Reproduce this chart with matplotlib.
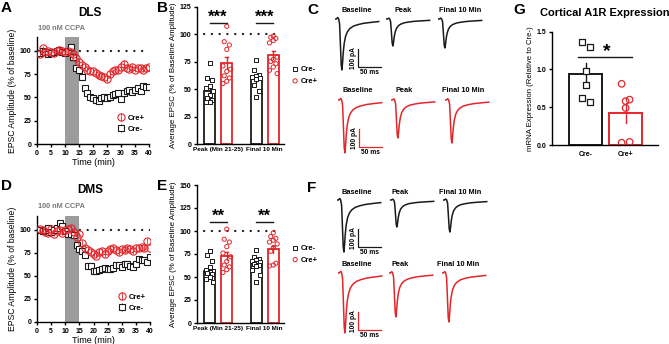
import numpy as np
import matplotlib
matplotlib.use("Agg")
from matplotlib import pyplot as plt

plt.rcParams['font.family'] = ['Liberation Sans', 'DejaVu Sans']
plt.rcParams['font.weight'] = 'bold'
plt.rcParams['axes.linewidth'] = 1.0

RED = '#e3262b'
BLACK = '#1a1a1a'
GRAY = '#9c9c9c'

W, H = 669, 344

# ---- time course data (A: DLS, D: DMS) ----
minutes = list(range(1, 41))
dls_cre_pos = [97, 103, 99, 100, 99, 98, 100, 101, 100, 99,
               100, 99, 97, 92, 88, 85, 83, 80, 78, 78,
               76, 74, 73, 72, 70, 75, 78, 80, 79, 83,
               86, 82, 81, 83, 80, 82, 82, 80, 82, 83]
dls_cre_pos_sem = [2, 2, 2, 1, 2, 1, 2, 1, 2, 1,
                   2, 2, 2, 3, 3, 3, 3, 3, 3, 3,
                   3, 3, 3, 3, 3, 3, 3, 3, 3, 3,
                   4, 3, 3, 3, 3, 3, 3, 3, 3, 2]
dls_cre_neg = [98, 100, 99, 97, 98, 99, 100, 101, 99, 98,
               100, 104, 93, 82, 80, 72, 60, 55, 50, 49,
               47, 46, 49, 50, 49, 50, 53, 54, 55, 48,
               55, 57, 58, 56, 58, 60, 57, 62, 61, 61]
dls_cre_neg_sem = [2, 1, 1, 2, 1, 1, 1, 1, 1, 1,
                   1, 2, 2, 2, 2, 2, 2, 2, 2, 2,
                   2, 2, 2, 2, 2, 2, 2, 2, 2, 2,
                   2, 2, 2, 2, 2, 2, 2, 2, 2, 2]
dms_cre_pos = [101, 100, 98, 97, 101, 96, 99, 100, 97, 100,
               101, 102, 98, 92, 95, 86, 80, 78, 76, 74,
               72, 76, 77, 74, 77, 79, 80, 78, 76, 79,
               78, 80, 79, 77, 80, 80, 81, 80, 88, 80]
dms_cre_pos_sem = [2, 2, 2, 2, 2, 3, 2, 3, 3, 3,
                   3, 3, 3, 3, 3, 3, 3, 3, 3, 3,
                   3, 3, 3, 3, 3, 3, 3, 3, 3, 3,
                   3, 3, 3, 3, 3, 3, 3, 3, 3, 3]
dms_cre_neg = [100, 99, 100, 102, 98, 100, 102, 107, 104, 99,
               96, 95, 94, 83, 79, 77, 73, 61, 61, 55,
               55, 56, 58, 59, 57, 58, 59, 62, 62, 60,
               63, 63, 61, 60, 63, 68, 67, 67, 65, 70]
dms_cre_neg_sem = [1, 1, 1, 2, 1, 2, 2, 2, 2, 2,
                   2, 2, 2, 2, 2, 2, 2, 2, 2, 2,
                   2, 2, 2, 2, 2, 2, 2, 2, 2, 2,
                   2, 2, 2, 2, 2, 2, 2, 2, 2, 2]

# ---- summary bars (B: DLS, E: DMS) ----
groups = ['Peak (Min 21-25)', 'Final 10 Min']
dls_neg_means = [48, 59]
dls_pos_means = [74, 81]
dls_neg_sems = [3.5, 3]
dls_pos_sems = [5, 3.5]
dls_neg_points = [[74, 60, 58, 53, 51, 48, 45, 42, 40, 38, 38],
                  [76, 67, 63, 62, 61, 60, 59, 54, 48, 43]]
dls_pos_points = [[107, 93, 90, 86, 71, 68, 66, 62, 60, 57, 55],
                  [98, 97, 96, 94, 92, 79, 77, 75, 73, 70, 67, 64]]
dms_neg_means = [56, 65]
dms_pos_means = [73, 80]
dms_neg_sems = [2.5, 2.5]
dms_pos_sems = [4, 3.5]
dms_neg_points = [[78, 74, 67, 61, 58, 56, 55, 54, 53, 50, 48, 45],
                  [79, 72, 70, 68, 67, 66, 65, 64, 63, 62, 58, 52, 45]]
dms_pos_points = [[102, 91, 88, 83, 76, 72, 67, 63, 61, 58, 55],
                  [98, 94, 92, 90, 88, 86, 82, 78, 65, 63, 62]]

# ---- G: mRNA ----
g_labels = ['Cre-', 'Cre+']
g_means = [0.94, 0.42]
g_sems = [0.14, 0.13]
g_points = [[1.37, 1.30, 0.98, 0.80, 0.62, 0.57],
            [0.81, 0.60, 0.58, 0.49, 0.03, 0.04]]

# ---- example EPSC traces (C, F) ----
trace_ms = [0, 3, 6, 8, 10, 12, 13.5, 15, 16.5, 18, 20, 23, 27, 32, 40, 50, 62, 75, 95]
trace_shape = [0, 0, 0.03, 0, -0.1, -0.55, -0.9, -1.0, -0.85, -0.65, -0.48,
               -0.34, -0.25, -0.19, -0.14, -0.11, -0.085, -0.07, -0.05]
trace_names = ['Baseline', 'Peak', 'Final 10 Min']
c_black_pA = [283, 150, 161]
c_red_pA = [294, 211, 239]
f_black_pA = [289, 150, 178]
f_red_pA = [333, 244, 272]

fig = plt.figure(figsize=(W / 100, H / 100), dpi=100)


def px_axes(left, top, right, bottom):
    return fig.add_axes([left / W, 1 - bottom / H, (right - left) / W, (bottom - top) / H])


def ftext(x, y, s, **kw):
    fig.text(x / W, 1 - y / H, s, **kw)


def style(ax):
    ax.spines['top'].set_visible(False)
    ax.spines['right'].set_visible(False)
    ax.tick_params(labelsize=5, length=2.5, width=1, pad=1.5)


def dotted_100(ax, x0, x1):
    ax.plot([x0, x1], [100, 100], color=BLACK, lw=1.6, ls=(0, (0.1, 3.4)),
            dash_capstyle='round', zorder=1)


def time_panel(ax, pos, pos_sem, neg, neg_sem, legend_y):
    style(ax)
    ax.axvspan(10, 15, color=GRAY, lw=0, zorder=0)
    dotted_100(ax, 12.5, 40)
    ax.errorbar(minutes, neg, yerr=neg_sem, fmt='s', ms=4.8, mfc='white', mec=BLACK,
                mew=0.8, ecolor=BLACK, elinewidth=0.6, capsize=0, label='Cre-', zorder=3)
    ax.errorbar(minutes, pos, yerr=pos_sem, fmt='o', ms=5.2, mfc='none', mec=RED,
                mew=0.8, ecolor=RED, elinewidth=0.6, capsize=0, label='Cre+', zorder=4)
    ax.set_xlim(0, 40)
    ax.set_ylim(0, 115)
    ax.set_xticks(range(0, 41, 5))
    ax.set_yticks([0, 25, 50, 75, 100])
    ax.set_xlabel('Time (min)', fontsize=6.5, labelpad=1)
    ax.set_ylabel('EPSC Amplitude (% of baseline)', fontsize=6.2, labelpad=2)
    h, l = ax.get_legend_handles_labels()
    ax.legend([h[1], h[0]], [l[1], l[0]], loc='lower right', bbox_to_anchor=(1.0, legend_y),
              frameon=False, fontsize=5.5, handletextpad=0.3, borderpad=0,
              labelspacing=0.5, handlelength=1.2)


def swarm_offsets(n, step=0.055):
    out = []
    for i in range(n):
        k = (i % 3)
        out.append([0, -step, step][k] * (1 + (i // 3) % 2 * 0.5))
    return out


def bar_panel(ax, neg_m, pos_m, neg_s, pos_s, neg_pts, pos_pts, ymax, yticks, stars):
    style(ax)
    centers = np.arange(len(groups))
    off = 0.37
    bw = 0.24
    dotted_100(ax, -0.13, 1.5)
    for i, c in enumerate(centers):
        for x, m, s, pts, col, mk in [(c, neg_m[i], neg_s[i], neg_pts[i], BLACK, 's'),
                                      (c + off, pos_m[i], pos_s[i], pos_pts[i], RED, 'o')]:
            ax.bar(x, m, width=bw, facecolor='white', edgecolor=col, lw=1.3, zorder=2)
            ax.plot([x, x], [m - s, m + s], color=col, lw=1.0, zorder=3)
            ax.plot([x - 0.03, x + 0.03], [m + s, m + s], color=col, lw=1.0, zorder=3)
            ax.scatter(np.array(swarm_offsets(len(pts))) + x, pts, marker=mk, s=9,
                       facecolors='white' if mk == 's' else 'none', edgecolors=col,
                       linewidths=0.7, zorder=4)
        ax.plot([c, c + off], [110, 110], color=BLACK, lw=1.0)
        ax.text(c + off / 2, 108, stars, ha='center', va='bottom', fontsize=12, fontweight='bold')
    ax.set_xlim(-0.27, 1.6)
    ax.set_ylim(0, ymax)
    ax.set_yticks(yticks)
    ax.set_xticks(centers + off / 2)
    ax.set_xticklabels(groups, fontsize=4.6)
    ax.tick_params(axis='x', length=0, pad=2)
    ax.set_ylabel('Average EPSC (% of Baseline Amplitude)', fontsize=5.7, labelpad=2)
    hs = [ax.scatter([], [], marker='s', s=9, facecolors='white', edgecolors=BLACK, linewidths=0.7),
          ax.scatter([], [], marker='o', s=9, facecolors='none', edgecolors=RED, linewidths=0.7)]
    ax.legend(hs, ['Cre-', 'Cre+'], loc='center left', bbox_to_anchor=(1.04, 0.5),
              frameon=False, fontsize=5.5, handletextpad=0.3, borderpad=0,
              labelspacing=0.6, handlelength=1.0)


def trace_row(lefts, start_y, amps, color, label_xs, label_y, bar_at):
    ms_px, pa_px = 0.46, 0.18
    for k, (left, amp) in enumerate(zip(lefts, amps)):
        ax = px_axes(left, start_y - 20 * pa_px, left + 105 * ms_px, start_y + 350 * pa_px)
        ax.set_xlim(0, 105)
        ax.set_ylim(-350, 20)
        ax.axis('off')
        ax.plot(trace_ms, np.array(trace_shape) * amp, color=color, lw=1.1)
        ftext(label_xs[k], label_y, trace_names[k], fontsize=5.3, ha='center', va='center')
        if k == 0:
            x0, y0 = bar_at
            ax.plot([x0, x0, x0 + 50], [y0 + 100, y0, y0], color=color, lw=0.9, clip_on=False)
            ax.text(x0 - 3, y0 + 50, '100 pA', rotation=90, ha='right', va='center', fontsize=4.8)
            ax.text(x0 + 25, y0 - 12, '50 ms', ha='center', va='top', fontsize=4.8)


# A
axA = px_axes(37, 37, 149, 144)
time_panel(axA, dls_cre_pos, dls_cre_pos_sem, dls_cre_neg, dls_cre_neg_sem, 0.07)
ftext(90, 13, 'DLS', fontsize=8.5, ha='center', va='center')
ftext(62, 28, '100 nM CCPA', fontsize=5.3, color='#7a7a7a', ha='center', va='center')
# D
axD = px_axes(37, 216, 150, 322)
time_panel(axD, dms_cre_pos, dms_cre_pos_sem, dms_cre_neg, dms_cre_neg_sem, 0.06)
ftext(90, 190, 'DMS', fontsize=8.5, ha='center', va='center')
ftext(62, 207, '100 nM CCPA', fontsize=5.3, color='#7a7a7a', ha='center', va='center')

# B
axB = px_axes(197, 6.5, 284, 144)
bar_panel(axB, dls_neg_means, dls_pos_means, dls_neg_sems, dls_pos_sems,
          dls_neg_points, dls_pos_points, 125, [0, 25, 50, 75, 100, 125], '***')
# E
axE = px_axes(197, 185, 284, 323)
bar_panel(axE, dms_neg_means, dms_pos_means, dms_neg_sems, dms_pos_sems,
          dms_neg_points, dms_pos_points, 150, [0, 25, 50, 75, 100, 125, 150], '**')

# C
trace_row([335, 386, 438], 19, c_black_pA, BLACK, [357, 403, 460], 11, (50, -267))
trace_row([338, 391, 445], 100, c_red_pA, RED, [358, 404, 463], 90, (46, -261))
# F
trace_row([337, 390, 443], 200, f_black_pA, BLACK, [357, 400, 460], 193, (46, -261))
trace_row([338, 389, 442], 273, f_red_pA, RED, [357, 400, 458], 264, (44, -317))

# G
axG = px_axes(552, 31.7, 658, 145)
style(axG)
for i, (m, s, pts) in enumerate(zip(g_means, g_sems, g_points)):
    col = BLACK if i == 0 else RED
    mk = 's' if i == 0 else 'o'
    axG.bar(i, m, width=0.82, facecolor='white', edgecolor=col, lw=1.4, zorder=2)
    axG.plot([i, i], [m - s, m + s], color=col, lw=1.0, zorder=3)
    offs = [-0.1, 0.1, 0.0, 0.0, -0.1, 0.1]
    axG.scatter(np.array(offs) + i, pts, marker=mk, s=22,
                facecolors='white' if i == 0 else 'none', edgecolors=col, linewidths=0.9, zorder=4)
axG.plot([-0.2, 1.17], [1.16, 1.16], color=BLACK, lw=1.0)
axG.text(0.52, 1.12, '*', ha='center', va='bottom', fontsize=14, fontweight='bold')
axG.set_xlim(-0.84, 1.81)
axG.set_ylim(0, 1.5)
axG.set_yticks([0, 0.5, 1.0, 1.5])
axG.set_yticklabels(['0.0', '0.5', '1.0', '1.5'])
axG.set_xticks([0, 1])
axG.set_xticklabels(g_labels, fontsize=5)
axG.tick_params(axis='x', length=0, pad=4)
axG.set_ylabel('mRNA Expression (Relative to Cre-)', fontsize=5.6, labelpad=2)
ftext(605, 13, 'Cortical A1R Expression', fontsize=8, ha='center', va='center')

# panel letters
for letter, x, y in [('A', 1, 1), ('B', 157, 1), ('C', 307, 3), ('G', 513, 3),
                     ('D', 1, 179), ('E', 157, 179), ('F', 307, 181)]:
    ftext(x, y, letter, fontsize=11, ha='left', va='top', fontweight='bold')

fig.savefig('out.png', dpi=100)
